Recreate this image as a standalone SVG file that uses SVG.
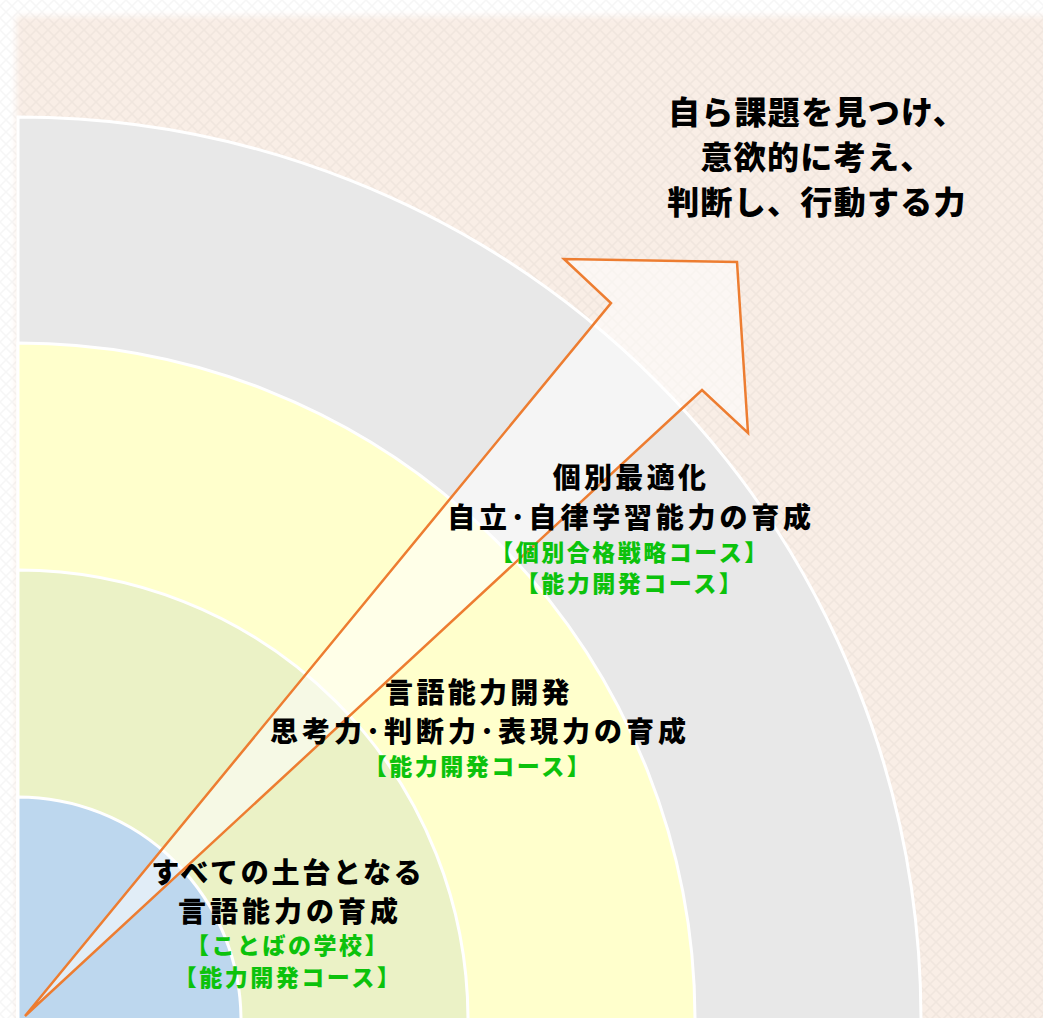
<svg xmlns="http://www.w3.org/2000/svg" width="1043" height="1018" viewBox="0 0 1043 1018">
<style>
.ring{stroke:#ffffff;stroke-width:3}
.blk{font-family:"Noto Sans CJK JP","Noto Sans",sans-serif;font-weight:900;fill:#000000;text-anchor:middle}
.grn{font-family:"Noto Sans CJK JP","Noto Sans",sans-serif;font-weight:900;fill:#0cc20c;text-anchor:middle;font-size:23px;letter-spacing:2.5px}
</style>
<defs>
<pattern id="dia" width="12" height="12" patternUnits="userSpaceOnUse">
<path d="M6 0 L12 6 L6 12 L0 6 Z" fill="none" stroke="#000" stroke-opacity="0.035" stroke-width="1.5"/>
</pattern>
<filter id="blur" x="-5%" y="-5%" width="110%" height="110%"><feGaussianBlur stdDeviation="3"/></filter>
</defs>
<g id="background">
<rect x="0" y="0" width="1043" height="1018" fill="#ffffff"/>
<rect x="16" y="16" width="1050" height="1030" fill="#f9eee6" filter="url(#blur)"/>
<rect x="0" y="0" width="1043" height="1018" fill="url(#dia)"/>
</g>
<g id="ring-outer"><path class="ring" d="M18 1020 L18 117 A903 903 0 0 1 921 1020 Z" fill="#e8e8e8"/></g>
<g id="ring-yellow"><path class="ring" d="M18 1020 L18 343 A677 677 0 0 1 695 1020 Z" fill="#ffffcc"/></g>
<g id="ring-green"><path class="ring" d="M18 1020 L18 570 A450 450 0 0 1 468 1020 Z" fill="#ebf2c6"/></g>
<g id="ring-blue"><path class="ring" d="M18 1020 L18 797 A223 223 0 0 1 241 1020 Z" fill="#bdd7ee"/></g>
<g id="connectors">
<polygon id="arrow" points="25,1016 611,303 564,259 737,262 748,433 702,390" fill="#ffffff" fill-opacity="0.55" stroke="#ed7d31" stroke-width="2.5" stroke-linejoin="miter"/>
</g>
<g id="goal">
<text class="blk" x="817" y="124" font-size="32" letter-spacing="1.3">自ら課題を見つけ、</text>
<text class="blk" x="817" y="169" font-size="32" letter-spacing="1.3">意欲的に考え、</text>
<text class="blk" x="817" y="214" font-size="32" letter-spacing="1.3">判断し、行動する力</text>
</g>
<g id="label-outer">
<text class="blk" x="631" y="488" font-size="28" letter-spacing="3.3">個別最適化</text>
<text class="blk" x="631" y="528" font-size="28" letter-spacing="3.8">自立･自律学習能力の育成</text>
<text class="grn" x="630" y="561">【個別合格戦略コース】</text>
<text class="grn" x="630" y="592">【能力開発コース】</text>
</g>
<g id="label-yellow">
<text class="blk" x="479" y="703" font-size="28" letter-spacing="3.3">言語能力開発</text>
<text class="blk" x="480" y="742" font-size="28" letter-spacing="4">思考力･判断力･表現力の育成</text>
<text class="grn" x="478" y="775">【能力開発コース】</text>
</g>
<g id="label-green">
<text class="blk" x="288" y="883" font-size="28" letter-spacing="2.8">すべての土台となる</text>
<text class="blk" x="290" y="922" font-size="28" letter-spacing="4">言語能力の育成</text>
<text class="grn" x="288" y="954">【ことばの学校】</text>
<text class="grn" x="288" y="986">【能力開発コース】</text>
</g>
</svg>
